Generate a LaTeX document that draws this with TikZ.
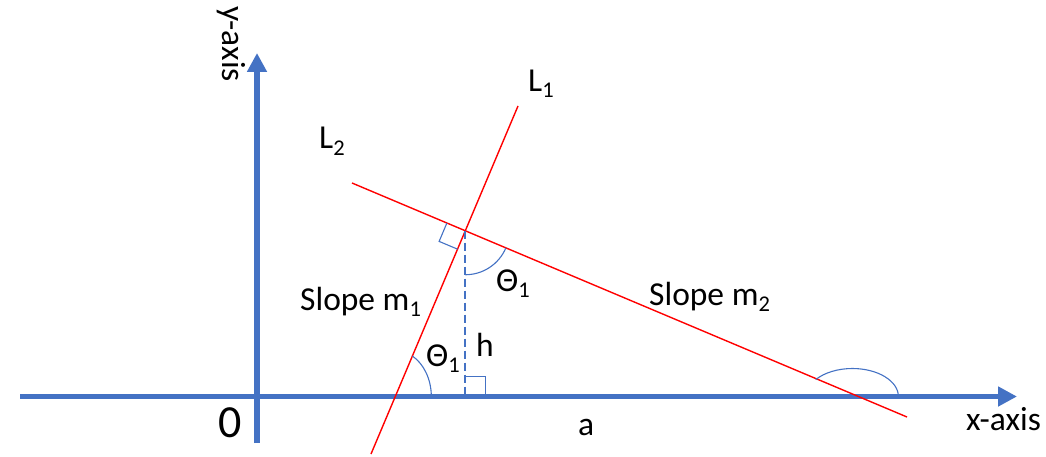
\documentclass[tikz,border=0pt]{standalone}
\usepackage{fontspec}
\setmainfont{Carlito}
\usepackage{tikz}
\usetikzlibrary{arrows.meta,positioning,calc}
\definecolor{axblue}{RGB}{68,114,196}
\definecolor{lnred}{RGB}{255,0,0}
\newcommand{\lowidx}[1]{\raisebox{-6pt}{\fontsize{22.5}{23}\selectfont #1}}

\begin{document}
\begin{tikzpicture}[x=1pt,y=1pt,
  axis/.style={draw=axblue,line width=5.5pt,-{Triangle[length=19pt,width=19pt]}},
  redline/.style={draw=lnred,line width=1.4pt},
  anglemark/.style={draw=axblue,line width=1.1pt},
  lbl/.style={font=\fontsize{33.5}{37}\selectfont,inner sep=0pt,anchor=base west}]
  \useasboundingbox (0,0) rectangle (1046,456);
  % Axes
  \coordinate (xs) at (20,59.5);
  \coordinate (xe) at (1017,59.5);
  \coordinate (ys) at (257,13);
  \coordinate (ye) at (257,403);
  \draw[axis] (xs) -- (xe);
  \draw[axis] (ys) -- (ye);
  % Lines L1 and L2
  \coordinate (l1a) at (371,2);
  \coordinate (l1b) at (518,350);
  \coordinate (l2a) at (352,273);
  \coordinate (l2b) at (907,39);
  \draw[redline] (l1a) -- (l1b);
  \draw[redline] (l2a) -- (l2b);
  % Crossings
  \coordinate (P) at (intersection of l1a--l1b and l2a--l2b);
  \coordinate (Q) at (intersection of l1a--l1b and xs--xe);
  \coordinate (R) at (intersection of l2a--l2b and xs--xe);
  \coordinate (F) at (P |- xs);
  % Height h
  \draw[axblue,line width=2pt,dash pattern=on 8pt off 4pt] (P) -- (F);
  % Right angles
  \draw[anglemark] ($(F)+(0,20)$) -| ($(F)+(20,0)$);
  \coordinate (pa) at ($(P)!20pt!(l2a)$);
  \coordinate (pb) at ($(P)!20pt!(l1a)$);
  \draw[anglemark] (pa) -- ($(pa)+(pb)-(P)$) -- (pb);
  % Angle arcs
  \draw[anglemark] ($(P)+(-22.9:44)$) arc[start angle=-22.9,end angle=-90,radius=44pt];
  \draw[anglemark] ($(Q)+(36,0)$) arc[start angle=0,end angle=61.6,x radius=36pt,y radius=46pt];
  \draw[anglemark] ($(R)+(40,0)$) arc[start angle=0,end angle=142.8,x radius=46pt,y radius=28pt];
  % Labels
  \node[lbl] (n1) at (528,364) {L\lowidx{1}};
  \node[lbl] (n2) at (319,307) {L\lowidx{2}};
  \node[lbl] (sm1) at (300,146) {Slope m\lowidx{1}};
  \node[lbl] (sm2) at (649,151) {Slope m\lowidx{2}};
  \node[lbl] (t1) at (496,165) {Θ\lowidx{1}};
  \node[lbl] (t2) at (426,90) {Θ\lowidx{1}};
  \node[lbl] (hh) at (476,99.3) {h};
  \node[lbl] (aa) at (578,20.3) {a};
  \node[lbl] (xl) at (966,26) {x-axis};
  \node[lbl,rotate=-90] (yl) at (222,450) {y-axis};
  \node[lbl,font=\fontsize{46}{50}\selectfont] (zero) at (218,19) {0};
\end{tikzpicture}
\end{document}
